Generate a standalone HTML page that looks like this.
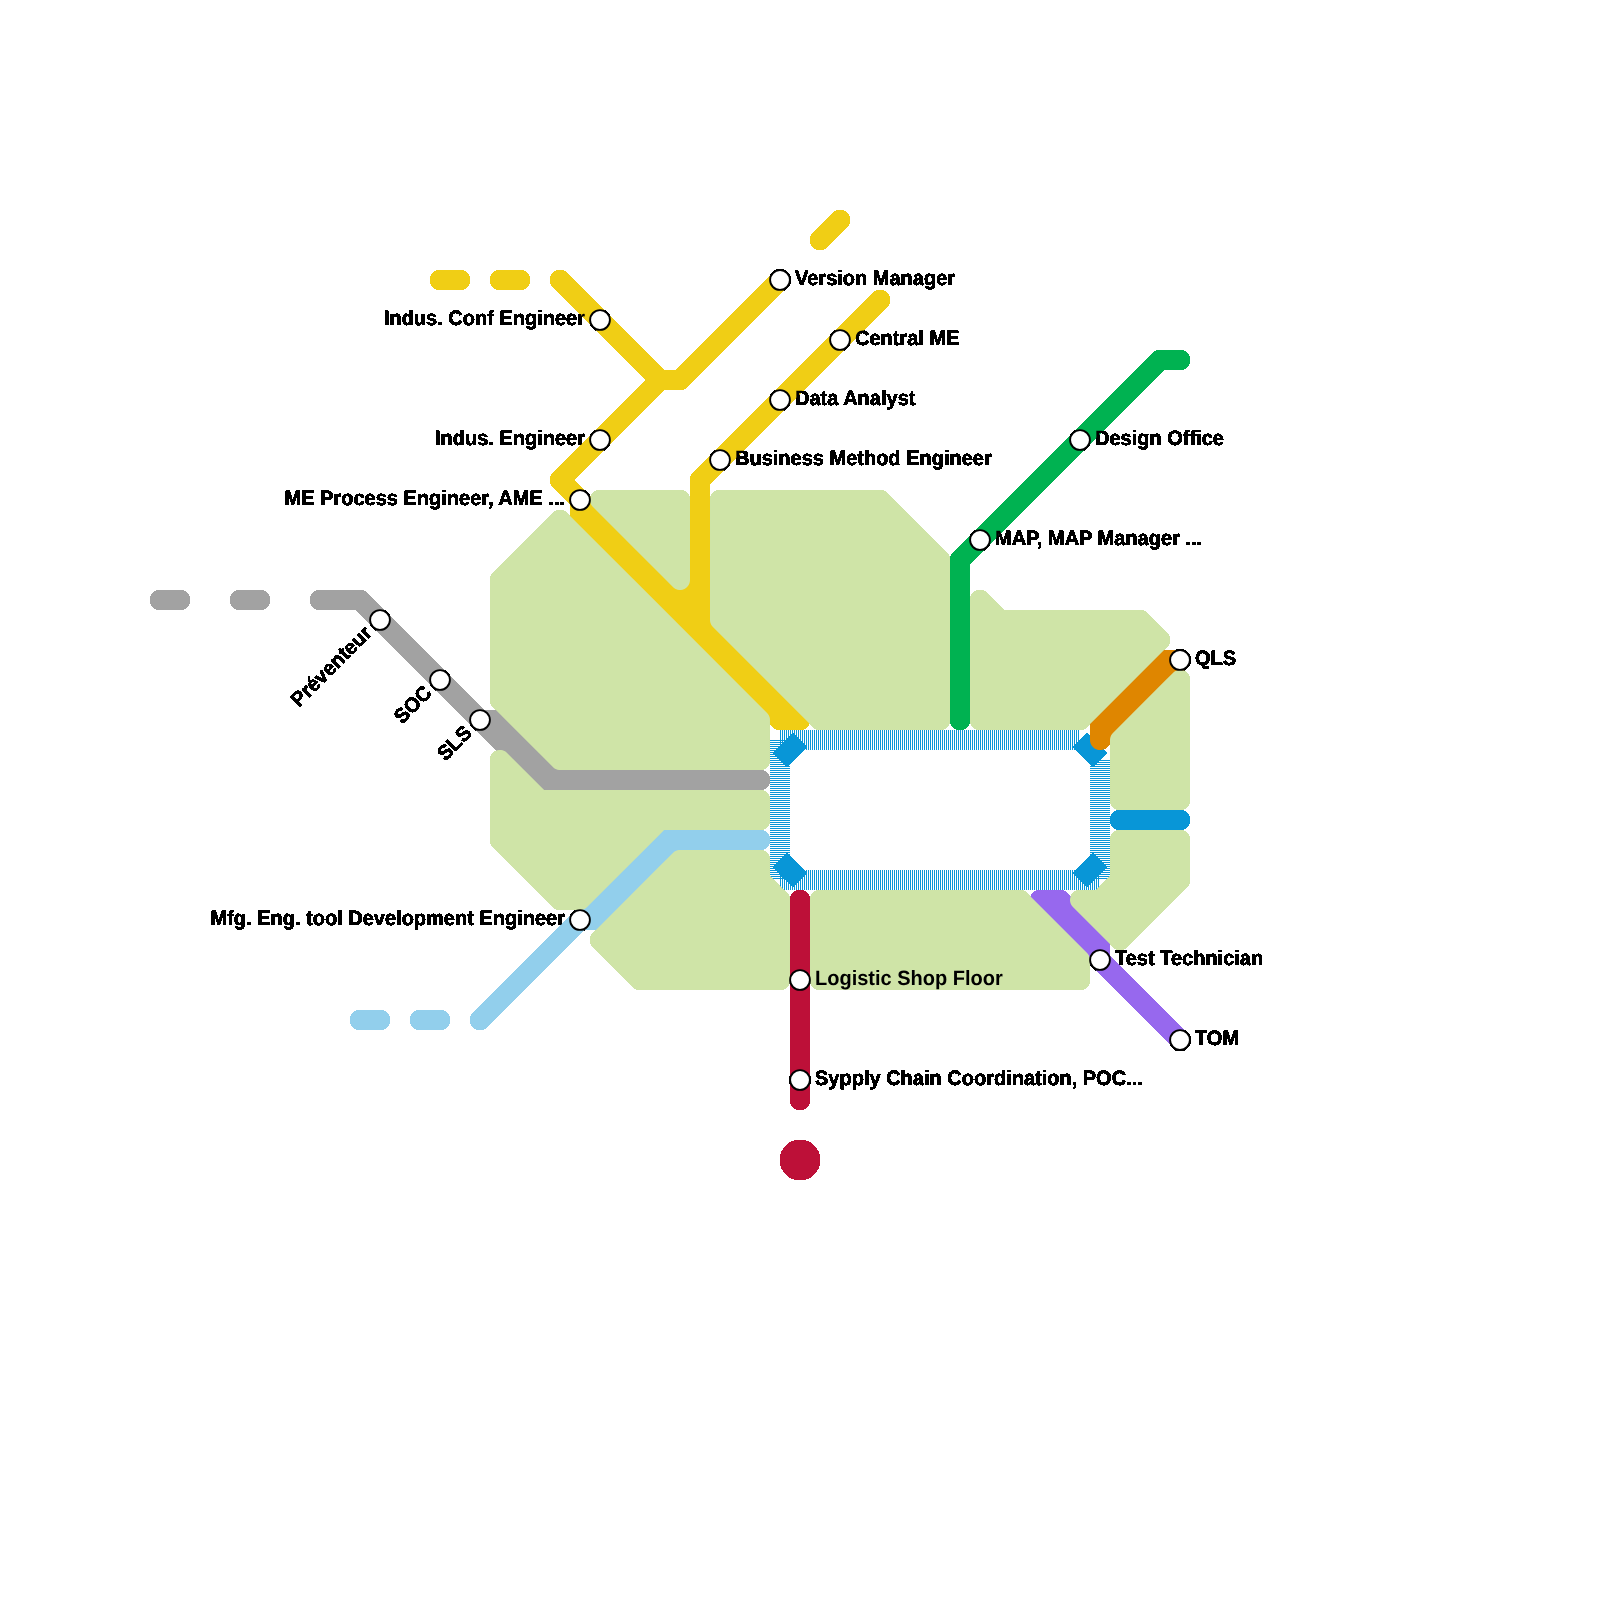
<!DOCTYPE html>
<html><head><meta charset="utf-8"><title>Map</title>
<style>
html,body{margin:0;padding:0;background:#fff}
svg{display:block}
text{font-family:"Liberation Sans",sans-serif;font-weight:700;font-size:20px;fill:#000;stroke:none;text-rendering:geometricPrecision}
</style></head>
<body>
<svg width="1600" height="1600" viewBox="0 0 1600 1600">
<defs>
<pattern id="vs" width="2" height="2" patternUnits="userSpaceOnUse"><rect x="0" y="0" width="1" height="2" fill="#0896d7"/></pattern>
<pattern id="hs" width="2" height="2" patternUnits="userSpaceOnUse"><rect x="0" y="0" width="2" height="1" fill="#0896d7"/></pattern>
<filter id="thr" filterUnits="userSpaceOnUse" x="0" y="0" width="1600" height="1600" color-interpolation-filters="sRGB"><feComponentTransfer><feFuncA type="discrete" tableValues="0 1 1 1 1 1 1 1 1 1 1 1"/></feComponentTransfer></filter>
</defs>
<rect width="1600" height="1600" fill="#fff"/>
<g filter="url(#thr)">
<!-- hatched loop -->
<g shape-rendering="crispEdges">
<rect x="780" y="730" width="300" height="20" fill="url(#vs)"/>
<rect x="780" y="870" width="320" height="20" fill="url(#vs)"/>
<rect x="770" y="740" width="20" height="140" fill="url(#hs)"/>
<rect x="1090" y="760" width="20" height="120" fill="url(#hs)"/>
</g>
<polygon points="787.07,767.07 807.07,747.07 792.93,732.93 772.93,752.93" fill="#0896d7"/>
<polygon points="1072.93,747.07 1092.93,767.07 1107.07,752.93 1087.07,732.93" fill="#0896d7"/>
<polygon points="1087.07,887.07 1107.07,867.07 1092.93,852.93 1072.93,872.93" fill="#0896d7"/>
<polygon points="772.93,867.07 792.93,887.07 807.07,872.93 787.07,852.93" fill="#0896d7"/>
<!-- lines -->
<path d="M1180,830L1181.31,829.91L1181.95,829.81L1182.59,829.66L1183.83,829.24L1185,828.66L1185.56,828.31L1186.59,827.52L1187.07,827.07L1187.93,826.09L1188.66,825L1189.24,823.83L1189.47,823.21L1189.66,822.59L1189.91,821.31L1190,820L1189.98,819.35L1189.91,818.69L1189.66,817.41L1189.24,816.17L1188.97,815.58L1188.66,815L1187.93,813.91L1187.07,812.93L1186.59,812.48L1185.56,811.69L1185,811.34L1183.83,810.76L1182.59,810.34L1181.95,810.19L1181.31,810.09L1180,810L1120,810L1118.69,810.09L1117.41,810.34L1116.17,810.76L1115.58,811.03L1114.44,811.69L1113.41,812.48L1112.93,812.93L1112.07,813.91L1111.34,815L1110.76,816.17L1110.34,817.41L1110.19,818.05L1110.09,818.69L1110,820L1110.09,821.31L1110.19,821.95L1110.34,822.59L1110.76,823.83L1111.34,825L1111.69,825.56L1112.07,826.09L1112.93,827.07L1113.91,827.93L1114.44,828.31L1115,828.66L1116.17,829.24L1117.41,829.66L1118.05,829.81L1118.69,829.91L1120,830Z" fill="#0896d7"/>
<path d="M181.31,609.91L182.59,609.66L183.83,609.24L185,608.66L186.09,607.93L186.59,607.52L187.52,606.59L187.93,606.09L188.66,605L189.24,603.83L189.47,603.21L189.81,601.95L189.98,600.65L189.98,599.35L189.81,598.05L189.47,596.79L189.24,596.17L188.66,595L187.93,593.91L187.52,593.41L186.59,592.48L185.56,591.69L185,591.34L183.83,590.76L182.59,590.34L181.95,590.19L181.31,590.09L180,590L160,590L158.69,590.09L157.41,590.34L156.17,590.76L155,591.34L153.91,592.07L152.93,592.93L152.07,593.91L151.34,595L150.76,596.17L150.53,596.79L150.19,598.05L150.02,599.35L150,600L150.02,600.65L150.19,601.95L150.53,603.21L150.76,603.83L151.03,604.42L151.69,605.56L152.48,606.59L152.93,607.07L153.91,607.93L154.44,608.31L155,608.66L156.17,609.24L157.41,609.66L158.05,609.81L158.69,609.91L160,610L180,610ZM262.59,609.66L263.83,609.24L265,608.66L266.09,607.93L266.59,607.52L267.52,606.59L268.31,605.56L268.97,604.42L269.24,603.83L269.47,603.21L269.81,601.95L269.98,600.65L270,600L269.91,598.69L269.66,597.41L269.47,596.79L268.97,595.58L268.31,594.44L267.52,593.41L266.59,592.48L266.09,592.07L265,591.34L263.83,590.76L262.59,590.34L261.95,590.19L261.31,590.09L260,590L240,590L238.69,590.09L237.41,590.34L236.17,590.76L235,591.34L233.91,592.07L232.93,592.93L232.07,593.91L231.34,595L230.76,596.17L230.53,596.79L230.19,598.05L230.02,599.35L230,600L230.02,600.65L230.19,601.95L230.53,603.21L230.76,603.83L231.03,604.42L231.69,605.56L232.48,606.59L232.93,607.07L233.91,607.93L234.44,608.31L235,608.66L236.17,609.24L237.41,609.66L238.05,609.81L238.69,609.91L240,610L260,610L261.31,609.91ZM366.09,592.07L365,591.34L363.83,590.76L362.59,590.34L361.31,590.09L360.65,590.02L320,590L318.69,590.09L318.05,590.19L317.41,590.34L316.17,590.76L315,591.34L314.44,591.69L313.91,592.07L312.93,592.93L312.48,593.41L311.69,594.44L311.03,595.58L310.76,596.17L310.53,596.79L310.19,598.05L310.09,598.69L310,600L310.09,601.31L310.19,601.95L310.53,603.21L311.03,604.42L311.69,605.56L312.07,606.09L312.93,607.07L313.91,607.93L315,608.66L316.17,609.24L316.79,609.47L318.05,609.81L318.69,609.91L320,610L355.86,610L532.93,787.07L533.41,787.52L534.44,788.31L535.58,788.97L536.79,789.47L538.05,789.81L538.69,789.91L540,790L760,790L761.31,789.91L762.59,789.66L763.83,789.24L765,788.66L766.09,787.93L767.07,787.07L767.52,786.59L768.31,785.56L768.97,784.42L769.47,783.21L769.81,781.95L769.98,780.65L769.98,779.35L769.91,778.69L769.66,777.41L769.24,776.17L768.66,775L767.93,773.91L767.07,772.93L766.09,772.07L765,771.34L763.83,770.76L762.59,770.34L761.31,770.09L760.65,770.02L564.14,770L507.07,712.93L506.09,712.07L505,711.34L503.83,710.76L502.59,710.34L501.31,710.09L500.65,710.02L484.14,710L367.07,592.93Z" fill="#a2a2a2"/>
<path d="M607.07,927.07L684.14,850L760,850L761.31,849.91L761.95,849.81L762.59,849.66L763.83,849.24L765,848.66L766.09,847.93L766.59,847.52L767.52,846.59L768.31,845.56L768.97,844.42L769.47,843.21L769.81,841.95L769.91,841.31L770,840L769.91,838.69L769.81,838.05L769.47,836.79L768.97,835.58L768.31,834.44L767.52,833.41L766.59,832.48L765.56,831.69L764.42,831.03L763.21,830.53L761.95,830.19L760.65,830.02L660,830L658.69,830.09L657.41,830.34L656.17,830.76L655,831.34L654.44,831.69L653.41,832.48L652.93,832.93L472.93,1012.93L472.07,1013.91L471.69,1014.44L471.03,1015.58L470.53,1016.79L470.34,1017.41L470.09,1018.69L470.02,1019.35L470,1020L470.09,1021.31L470.19,1021.95L470.53,1023.21L470.76,1023.83L471.34,1025L472.07,1026.09L472.93,1027.07L473.41,1027.52L473.91,1027.93L475,1028.66L476.17,1029.24L476.79,1029.47L477.41,1029.66L478.69,1029.91L480,1030L480.65,1029.98L481.31,1029.91L482.59,1029.66L483.83,1029.24L484.42,1028.97L485,1028.66L486.09,1027.93L487.07,1027.07L584.14,930L600.65,929.98L601.31,929.91L602.59,929.66L603.83,929.24L604.42,928.97L605.56,928.31L606.59,927.52ZM382.59,1029.66L383.83,1029.24L385,1028.66L386.09,1027.93L387.07,1027.07L387.52,1026.59L388.31,1025.56L388.66,1025L389.24,1023.83L389.47,1023.21L389.81,1021.95L389.98,1020.65L390,1020L389.91,1018.69L389.66,1017.41L389.47,1016.79L388.97,1015.58L388.31,1014.44L387.52,1013.41L386.59,1012.48L386.09,1012.07L385,1011.34L383.83,1010.76L382.59,1010.34L381.95,1010.19L381.31,1010.09L380,1010L360,1010L358.69,1010.09L357.41,1010.34L356.17,1010.76L355,1011.34L353.91,1012.07L352.93,1012.93L352.07,1013.91L351.34,1015L350.76,1016.17L350.53,1016.79L350.19,1018.05L350.09,1018.69L350,1020L350.09,1021.31L350.19,1021.95L350.53,1023.21L350.76,1023.83L351.34,1025L351.69,1025.56L352.48,1026.59L352.93,1027.07L353.91,1027.93L354.44,1028.31L355,1028.66L356.17,1029.24L357.41,1029.66L358.05,1029.81L358.69,1029.91L360,1030L380,1030L381.31,1029.91ZM441.31,1029.91L442.59,1029.66L443.83,1029.24L445,1028.66L446.09,1027.93L447.07,1027.07L447.52,1026.59L448.31,1025.56L448.66,1025L449.24,1023.83L449.66,1022.59L449.91,1021.31L450,1020L449.91,1018.69L449.81,1018.05L449.47,1016.79L449.24,1016.17L448.66,1015L447.93,1013.91L447.52,1013.41L446.59,1012.48L446.09,1012.07L445,1011.34L443.83,1010.76L442.59,1010.34L441.95,1010.19L441.31,1010.09L440,1010L420,1010L418.69,1010.09L417.41,1010.34L416.17,1010.76L415,1011.34L413.91,1012.07L412.93,1012.93L412.07,1013.91L411.34,1015L410.76,1016.17L410.53,1016.79L410.19,1018.05L410.09,1018.69L410,1020L410.09,1021.31L410.19,1021.95L410.53,1023.21L410.76,1023.83L411.34,1025L411.69,1025.56L412.48,1026.59L412.93,1027.07L413.91,1027.93L414.44,1028.31L415,1028.66L416.17,1029.24L417.41,1029.66L418.05,1029.81L418.69,1029.91L420,1030L440,1030Z" fill="#92cfec"/>
<path d="M1180.65,369.98L1181.95,369.81L1183.21,369.47L1183.83,369.24L1185,368.66L1185.56,368.31L1186.59,367.52L1187.07,367.07L1187.93,366.09L1188.66,365L1189.24,363.83L1189.66,362.59L1189.91,361.31L1190,360L1189.98,359.35L1189.81,358.05L1189.66,357.41L1189.24,356.17L1188.66,355L1187.93,353.91L1187.07,352.93L1186.59,352.48L1185.56,351.69L1184.42,351.03L1183.21,350.53L1181.95,350.19L1180.65,350.02L1160,350L1158.69,350.09L1158.05,350.19L1156.79,350.53L1156.17,350.76L1155,351.34L1153.91,352.07L1152.93,352.93L952.93,552.93L952.48,553.41L951.69,554.44L951.34,555L950.76,556.17L950.34,557.41L950.09,558.69L950,560L950,720L950.09,721.31L950.34,722.59L950.76,723.83L951.34,725L952.07,726.09L952.93,727.07L953.41,727.52L954.44,728.31L955.58,728.97L956.79,729.47L958.05,729.81L959.35,729.98L960.65,729.98L961.95,729.81L963.21,729.47L964.42,728.97L965.56,728.31L966.59,727.52L967.52,726.59L968.31,725.56L968.97,724.42L969.47,723.21L969.81,721.95L969.98,720.65L970,564.14L1164.14,370Z" fill="#00b251"/>
<path d="M1187.52,666.59L1187.93,666.09L1188.66,665L1189.24,663.83L1189.66,662.59L1189.91,661.31L1190,660L1189.91,658.69L1189.81,658.05L1189.66,657.41L1189.24,656.17L1188.66,655L1187.93,653.91L1187.07,652.93L1186.09,652.07L1185,651.34L1183.83,650.76L1182.59,650.34L1181.95,650.19L1181.31,650.09L1180,650L1159.35,650.02L1158.05,650.19L1157.41,650.34L1156.17,650.76L1155,651.34L1154.44,651.69L1153.41,652.48L1092.93,712.93L1092.07,713.91L1091.69,714.44L1091.03,715.58L1090.53,716.79L1090.19,718.05L1090.02,719.35L1090,740L1090.09,741.31L1090.19,741.95L1090.34,742.59L1090.76,743.83L1091.34,745L1092.07,746.09L1092.48,746.59L1092.93,747.07L1093.91,747.93L1095,748.66L1095.58,748.97L1096.17,749.24L1097.41,749.66L1098.69,749.91L1099.35,749.98L1100.65,749.98L1101.31,749.91L1102.59,749.66L1103.21,749.47L1103.83,749.24L1105,748.66L1105.56,748.31L1106.59,747.52Z" fill="#df8600"/>
<path d="M1066.09,892.07L1065,891.34L1063.83,890.76L1062.59,890.34L1061.95,890.19L1060.65,890.02L1040,890L1038.69,890.09L1037.41,890.34L1036.79,890.53L1036.17,890.76L1035,891.34L1034.44,891.69L1033.41,892.48L1032.93,892.93L1032.07,893.91L1031.34,895L1031.03,895.58L1030.76,896.17L1030.34,897.41L1030.09,898.69L1030.02,899.35L1030,900L1030.09,901.31L1030.34,902.59L1030.53,903.21L1030.76,903.83L1031.34,905L1032.07,906.09L1032.93,907.07L1173.41,1047.52L1173.91,1047.93L1175,1048.66L1176.17,1049.24L1177.41,1049.66L1178.05,1049.81L1178.69,1049.91L1180,1050L1181.31,1049.91L1182.59,1049.66L1183.21,1049.47L1183.83,1049.24L1185,1048.66L1186.09,1047.93L1187.07,1047.07L1187.52,1046.59L1187.93,1046.09L1188.66,1045L1189.24,1043.83L1189.47,1043.21L1189.66,1042.59L1189.91,1041.31L1190,1040L1189.98,1039.35L1189.91,1038.69L1189.66,1037.41L1189.24,1036.17L1188.97,1035.58L1188.66,1035L1187.93,1033.91L1187.07,1032.93L1110,955.86L1109.98,939.35L1109.81,938.05L1109.47,936.79L1108.97,935.58L1108.31,934.44L1107.93,933.91L1107.07,932.93L1067.07,892.93Z" fill="#9768ee"/>
<path d="M790,1100L790.09,1101.31L790.19,1101.95L790.34,1102.59L790.76,1103.83L791.34,1105L791.69,1105.56L792.48,1106.59L792.93,1107.07L793.91,1107.93L794.44,1108.31L795,1108.66L796.17,1109.24L797.41,1109.66L798.05,1109.81L798.69,1109.91L800,1110L801.31,1109.91L801.95,1109.81L802.59,1109.66L803.83,1109.24L805,1108.66L805.56,1108.31L806.09,1107.93L807.07,1107.07L807.93,1106.09L808.31,1105.56L808.66,1105L809.24,1103.83L809.66,1102.59L809.81,1101.95L809.98,1100.65L809.98,899.35L809.81,898.05L809.66,897.41L809.24,896.17L808.66,895L808.31,894.44L807.52,893.41L807.07,892.93L806.59,892.48L805.56,891.69L805,891.34L803.83,890.76L802.59,890.34L801.95,890.19L800.65,890.02L799.35,890.02L798.69,890.09L797.41,890.34L796.79,890.53L796.17,890.76L795,891.34L794.44,891.69L793.41,892.48L792.48,893.41L792.07,893.91L791.34,895L791.03,895.58L790.76,896.17L790.34,897.41L790.09,898.69L790.02,899.35Z" fill="#bd1038"/>
<path d="M523.21,289.47L524.42,288.97L525.56,288.31L526.09,287.93L527.07,287.07L527.93,286.09L528.66,285L529.24,283.83L529.66,282.59L529.91,281.31L529.98,280.65L529.98,279.35L529.81,278.05L529.47,276.79L529.24,276.17L528.66,275L527.93,273.91L527.07,272.93L526.59,272.48L525.56,271.69L524.42,271.03L523.83,270.76L523.21,270.53L521.95,270.19L521.31,270.09L520,270L500,270L498.69,270.09L497.41,270.34L496.17,270.76L495,271.34L493.91,272.07L492.93,272.93L492.07,273.91L491.34,275L490.76,276.17L490.53,276.79L490.19,278.05L490.09,278.69L490,280L490.09,281.31L490.19,281.95L490.53,283.21L490.76,283.83L491.03,284.42L491.69,285.56L492.07,286.09L492.93,287.07L493.91,287.93L494.44,288.31L495.58,288.97L496.17,289.24L496.79,289.47L498.05,289.81L498.69,289.91L500,290L520,290L521.31,289.91L521.95,289.81ZM463.21,289.47L464.42,288.97L465.56,288.31L466.09,287.93L467.07,287.07L467.93,286.09L468.31,285.56L468.97,284.42L469.47,283.21L469.81,281.95L469.91,281.31L470,280L469.91,278.69L469.81,278.05L469.47,276.79L468.97,275.58L468.31,274.44L467.52,273.41L467.07,272.93L466.09,272.07L465,271.34L463.83,270.76L463.21,270.53L461.95,270.19L461.31,270.09L460,270L440,270L438.69,270.09L437.41,270.34L436.17,270.76L435,271.34L433.91,272.07L432.93,272.93L432.07,273.91L431.34,275L430.76,276.17L430.53,276.79L430.19,278.05L430.09,278.69L430,280L430.09,281.31L430.19,281.95L430.53,283.21L430.76,283.83L431.03,284.42L431.69,285.56L432.07,286.09L432.93,287.07L433.91,287.93L434.44,288.31L435.58,288.97L436.17,289.24L436.79,289.47L438.05,289.81L438.69,289.91L440,290L460,290L461.31,289.91L461.95,289.81ZM681.31,389.91L681.95,389.81L683.21,389.47L684.42,388.97L685.56,388.31L686.09,387.93L687.07,387.07L787.52,286.59L787.93,286.09L788.66,285L789.24,283.83L789.47,283.21L789.66,282.59L789.91,281.31L789.98,280.65L789.98,279.35L789.91,278.69L789.66,277.41L789.24,276.17L788.97,275.58L788.66,275L787.93,273.91L787.07,272.93L786.59,272.48L785.56,271.69L784.42,271.03L783.83,270.76L783.21,270.53L781.95,270.19L781.31,270.09L780,270L778.69,270.09L778.05,270.19L776.79,270.53L776.17,270.76L775.58,271.03L774.44,271.69L773.41,272.48L675.86,370L664.14,370L567.07,272.93L566.09,272.07L565.56,271.69L564.42,271.03L563.21,270.53L562.59,270.34L561.31,270.09L560.65,270.02L560,270L558.69,270.09L558.05,270.19L556.79,270.53L555.58,271.03L554.44,271.69L553.91,272.07L553.41,272.48L552.48,273.41L552.07,273.91L551.34,275L550.76,276.17L550.34,277.41L550.19,278.05L550.09,278.69L550,280L550.09,281.31L550.34,282.59L550.53,283.21L550.76,283.83L551.34,285L552.07,286.09L552.48,286.59L645.86,380L552.93,472.93L552.07,473.91L551.69,474.44L551.03,475.58L550.53,476.79L550.19,478.05L550.02,479.35L550.02,480.65L550.19,481.95L550.53,483.21L551.03,484.42L551.69,485.56L552.07,486.09L552.93,487.07L570,504.14L570.02,520.65L570.09,521.31L570.34,522.59L570.76,523.83L571.34,525L572.07,526.09L572.93,527.07L773.41,727.52L774.44,728.31L775,728.66L776.17,729.24L777.41,729.66L778.05,729.81L779.35,729.98L800,730L801.31,729.91L802.59,729.66L803.21,729.47L803.83,729.24L805,728.66L806.09,727.93L807.07,727.07L807.93,726.09L808.66,725L809.24,723.83L809.66,722.59L809.91,721.31L809.98,720.65L809.98,719.35L809.81,718.05L809.66,717.41L809.24,716.17L808.66,715L807.93,713.91L807.07,712.93L710,615.86L710,484.14L887.07,307.07L887.93,306.09L888.66,305L889.24,303.83L889.47,303.21L889.81,301.95L889.98,300.65L889.98,299.35L889.91,298.69L889.66,297.41L889.24,296.17L888.66,295L888.31,294.44L887.52,293.41L886.59,292.48L885.56,291.69L884.42,291.03L883.21,290.53L881.95,290.19L881.31,290.09L880,290L878.69,290.09L877.41,290.34L876.79,290.53L875.58,291.03L874.44,291.69L873.41,292.48L692.93,472.93L692.07,473.91L691.34,475L690.76,476.17L690.53,476.79L690.34,477.41L690.09,478.69L690,480L690,575.86L680,585.86L574.14,480L664.14,390L680,390ZM848.97,224.42L849.24,223.83L849.66,222.59L849.91,221.31L850,220L849.91,218.69L849.66,217.41L849.24,216.17L848.97,215.58L848.31,214.44L847.93,213.91L847.07,212.93L846.09,212.07L845,211.34L844.42,211.03L843.21,210.53L841.95,210.19L841.31,210.09L840.65,210.02L839.35,210.02L838.05,210.19L836.79,210.53L836.17,210.76L835,211.34L833.91,212.07L832.93,212.93L812.93,232.93L812.48,233.41L811.69,234.44L811.03,235.58L810.53,236.79L810.19,238.05L810.02,239.35L810.02,240.65L810.09,241.31L810.34,242.59L810.76,243.83L811.34,245L811.69,245.56L812.48,246.59L813.41,247.52L813.91,247.93L815,248.66L815.58,248.97L816.17,249.24L817.41,249.66L818.05,249.81L819.35,249.98L820.65,249.98L821.31,249.91L821.95,249.81L823.21,249.47L824.42,248.97L825,248.66L826.09,247.93L827.07,247.07L847.07,227.07L847.52,226.59L848.31,225.56Z" fill="#f0ce15"/>
<path d="M820,1160L819.9,1158.04L819.62,1156.1L819.14,1154.19L818.48,1152.35L817.64,1150.57L816.63,1148.89L815.46,1147.31L814.14,1145.86L812.69,1144.54L811.11,1143.37L809.43,1142.36L807.65,1141.52L805.81,1140.86L803.9,1140.38L801.96,1140.1L800,1140L798.04,1140.1L796.1,1140.38L794.19,1140.86L792.35,1141.52L790.57,1142.36L788.89,1143.37L787.31,1144.54L785.86,1145.86L784.54,1147.31L783.37,1148.89L782.36,1150.57L781.52,1152.35L780.86,1154.19L780.38,1156.1L780.1,1158.04L780,1160L780.1,1161.96L780.38,1163.9L780.86,1165.81L781.52,1167.65L782.36,1169.43L783.37,1171.11L784.54,1172.69L785.86,1174.14L787.31,1175.46L788.89,1176.63L790.57,1177.64L792.35,1178.48L794.19,1179.14L796.1,1179.62L798.04,1179.9L800,1180L801.96,1179.9L803.9,1179.62L805.81,1179.14L807.65,1178.48L809.43,1177.64L811.11,1176.63L812.69,1175.46L814.14,1174.14L815.46,1172.69L816.63,1171.11L817.64,1169.43L818.48,1167.65L819.14,1165.81L819.62,1163.9L819.9,1161.96Z" fill="#bd1038"/>
<!-- park on top -->
<path d="M567.07,512.93L566.09,512.07L565.56,511.69L564.42,511.03L563.21,510.53L562.59,510.34L561.31,510.09L560.65,510.02L560,510L558.69,510.09L558.05,510.19L556.79,510.53L555.58,511.03L555,511.34L554.44,511.69L553.41,512.48L492.93,572.93L492.48,573.41L491.69,574.44L491.03,575.58L490.76,576.17L490.53,576.79L490.19,578.05L490.09,578.69L490,580L490,700L490.09,701.31L490.19,701.95L490.53,703.21L491.03,704.42L491.69,705.56L492.07,706.09L492.93,707.07L552.93,767.07L553.91,767.93L555,768.66L556.17,769.24L557.41,769.66L558.05,769.81L558.69,769.91L560,770L760,770L761.31,769.91L762.59,769.66L763.21,769.47L763.83,769.24L765,768.66L766.09,767.93L766.59,767.52L767.52,766.59L768.31,765.56L768.66,765L769.24,763.83L769.66,762.59L769.91,761.31L769.98,760.65L769.98,719.35L769.81,718.05L769.66,717.41L769.24,716.17L768.66,715L767.93,713.91L767.07,712.93ZM503.83,750.76L502.59,750.34L501.31,750.09L500,750L498.69,750.09L497.41,750.34L496.79,750.53L496.17,750.76L495,751.34L493.91,752.07L492.93,752.93L492.48,753.41L491.69,754.44L491.03,755.58L490.76,756.17L490.34,757.41L490.09,758.69L490,760L490,840L490.09,841.31L490.19,841.95L490.53,843.21L491.03,844.42L491.69,845.56L492.48,846.59L492.93,847.07L552.93,907.07L553.91,907.93L555,908.66L556.17,909.24L557.41,909.66L558.69,909.91L560,910L580.65,909.98L581.95,909.81L582.59,909.66L583.83,909.24L585,908.66L586.09,907.93L587.07,907.07L664.14,830L760.65,829.98L761.95,829.81L762.59,829.66L763.83,829.24L765,828.66L765.56,828.31L766.59,827.52L767.52,826.59L768.31,825.56L768.66,825L769.24,823.83L769.66,822.59L769.91,821.31L770,820L770,800L769.91,798.69L769.81,798.05L769.66,797.41L769.24,796.17L768.66,795L767.93,793.91L767.07,792.93L766.09,792.07L765,791.34L763.83,790.76L762.59,790.34L761.31,790.09L760,790L544.14,790L507.07,752.93L506.09,752.07L505,751.34ZM689.66,497.41L689.24,496.17L688.66,495L687.93,493.91L687.07,492.93L686.59,492.48L685.56,491.69L684.42,491.03L683.83,490.76L683.21,490.53L681.95,490.19L680.65,490.02L600,490L598.69,490.09L598.05,490.19L596.79,490.53L596.17,490.76L595.58,491.03L594.44,491.69L593.41,492.48L592.93,492.93L592.07,493.91L591.69,494.44L591.34,495L590.76,496.17L590.34,497.41L590.19,498.05L590.09,498.69L590,500L590.09,501.31L590.34,502.59L590.53,503.21L590.76,503.83L591.34,505L592.07,506.09L592.48,506.59L632.93,547.07L673.41,587.52L674.44,588.31L675,588.66L676.17,589.24L677.41,589.66L678.05,589.81L678.69,589.91L680,590L681.31,589.91L681.95,589.81L682.59,589.66L683.83,589.24L685,588.66L685.56,588.31L686.59,587.52L687.52,586.59L688.31,585.56L688.66,585L689.24,583.83L689.47,583.21L689.66,582.59L689.91,581.31L690,580L690,500L689.91,498.69ZM678.69,850.09L677.41,850.34L676.17,850.76L675,851.34L673.91,852.07L672.93,852.93L592.48,933.41L591.69,934.44L591.34,935L590.76,936.17L590.34,937.41L590.19,938.05L590.02,939.35L590.02,940.65L590.09,941.31L590.34,942.59L590.76,943.83L591.03,944.42L591.34,945L592.07,946.09L592.93,947.07L632.93,987.07L633.91,987.93L635,988.66L636.17,989.24L637.41,989.66L638.05,989.81L638.69,989.91L640,990L780,990L781.31,989.91L782.59,989.66L783.21,989.47L783.83,989.24L785,988.66L786.09,987.93L786.59,987.52L787.52,986.59L788.31,985.56L788.66,985L789.24,983.83L789.66,982.59L789.91,981.31L789.98,980.65L790,900L789.91,898.69L789.66,897.41L789.24,896.17L788.66,895L788.31,894.44L787.52,893.41L770,875.86L769.98,859.35L769.81,858.05L769.66,857.41L769.24,856.17L768.66,855L767.93,853.91L767.52,853.41L766.59,852.48L765.56,851.69L765,851.34L763.83,850.76L762.59,850.34L761.31,850.09L760.65,850.02L680,850ZM719.35,490.02L718.69,490.09L717.41,490.34L716.79,490.53L715.58,491.03L714.44,491.69L713.91,492.07L712.93,492.93L712.07,493.91L711.69,494.44L710.9,495.88L710.34,497.41L710.09,498.69L710.02,499.35L710,620L710.09,621.31L710.19,621.95L710.34,622.59L710.76,623.83L711.34,625L711.69,625.56L712.48,626.59L712.93,627.07L812.93,727.07L813.41,727.52L814.44,728.31L815,728.66L816.17,729.24L817.41,729.66L818.05,729.81L818.69,729.91L820,730L940,730L941.31,729.91L941.95,729.81L942.59,729.66L943.83,729.24L945,728.66L945.56,728.31L946.59,727.52L947.07,727.07L947.52,726.59L948.31,725.56L948.66,725L949.24,723.83L949.66,722.59L949.81,721.95L949.91,721.31L950,720L950,560L949.91,558.69L949.81,558.05L949.66,557.41L949.24,556.17L948.66,555L948.31,554.44L947.52,553.41L947.07,552.93L887.07,492.93L886.09,492.07L885,491.34L883.83,490.76L882.59,490.34L881.31,490.09L880,490ZM818.69,890.09L817.41,890.34L816.79,890.53L816.17,890.76L815,891.34L814.44,891.69L813.41,892.48L812.48,893.41L811.69,894.44L811.34,895L810.76,896.17L810.34,897.41L810.19,898.05L810.09,898.69L810,900L810.02,980.65L810.19,981.95L810.34,982.59L810.76,983.83L811.34,985L812.07,986.09L812.93,987.07L813.41,987.52L814.44,988.31L815.58,988.97L816.79,989.47L817.41,989.66L818.69,989.91L820,990L1080,990L1081.31,989.91L1082.59,989.66L1083.83,989.24L1085,988.66L1085.56,988.31L1086.59,987.52L1087.07,987.07L1087.93,986.09L1088.66,985L1089.24,983.83L1089.47,983.21L1089.66,982.59L1089.91,981.31L1090,980L1089.98,959.35L1089.81,958.05L1089.47,956.79L1088.97,955.58L1088.31,954.44L1087.93,953.91L1087.07,952.93L1027.07,892.93L1026.09,892.07L1025,891.34L1023.83,890.76L1023.21,890.53L1022.59,890.34L1021.31,890.09L1020,890L820,890ZM1146.09,612.07L1145,611.34L1143.83,610.76L1143.21,610.53L1142.59,610.34L1141.31,610.09L1140,610L1004.14,610L987.07,592.93L986.09,592.07L985,591.34L983.83,590.76L982.59,590.34L981.95,590.19L980.65,590.02L979.35,590.02L978.05,590.19L976.79,590.53L975.58,591.03L974.44,591.69L973.41,592.48L972.93,592.93L972.07,593.91L971.34,595L970.76,596.17L970.34,597.41L970.09,598.69L970,600L970,720L970.09,721.31L970.34,722.59L970.76,723.83L971.34,725L971.69,725.56L972.48,726.59L972.93,727.07L973.91,727.93L975,728.66L976.17,729.24L977.41,729.66L978.69,729.91L980,730L1080,730L1081.31,729.91L1082.59,729.66L1083.83,729.24L1085,728.66L1085.56,728.31L1086.59,727.52L1087.07,727.07L1167.07,647.07L1167.93,646.09L1168.66,645L1168.97,644.42L1169.47,643.21L1169.81,641.95L1169.98,640.65L1169.98,639.35L1169.81,638.05L1169.47,636.79L1168.97,635.58L1168.31,634.44L1167.93,633.91L1167.07,632.93L1147.07,612.93ZM1189.91,678.69L1189.66,677.41L1189.24,676.17L1188.66,675L1187.93,673.91L1187.07,672.93L1186.09,672.07L1185,671.34L1183.83,670.76L1182.59,670.34L1181.31,670.09L1180,670L1178.69,670.09L1177.41,670.34L1176.17,670.76L1175,671.34L1173.91,672.07L1172.93,672.93L1112.93,732.93L1112.07,733.91L1111.34,735L1110.76,736.17L1110.34,737.41L1110.09,738.69L1110,740L1110.02,800.65L1110.09,801.31L1110.34,802.59L1110.76,803.83L1111.34,805L1112.07,806.09L1112.93,807.07L1113.91,807.93L1115,808.66L1116.17,809.24L1117.41,809.66L1118.69,809.91L1120,810L1180.65,809.98L1181.31,809.91L1182.59,809.66L1183.83,809.24L1185,808.66L1186.09,807.93L1187.07,807.07L1187.93,806.09L1188.66,805L1189.24,803.83L1189.66,802.59L1189.91,801.31L1190,800L1190,680ZM1189.66,837.41L1189.24,836.17L1188.66,835L1187.93,833.91L1187.07,832.93L1186.59,832.48L1185.56,831.69L1185,831.34L1183.83,830.76L1182.59,830.34L1181.95,830.19L1180.65,830.02L1120,830L1118.69,830.09L1117.41,830.34L1116.17,830.76L1115,831.34L1113.91,832.07L1112.93,832.93L1112.07,833.91L1111.69,834.44L1111.34,835L1110.76,836.17L1110.34,837.41L1110.09,838.69L1110,840L1110,875.86L1095.86,890L1079.35,890.02L1078.05,890.19L1077.41,890.34L1076.17,890.76L1075,891.34L1073.91,892.07L1072.93,892.93L1072.48,893.41L1072.07,893.91L1071.34,895L1070.76,896.17L1070.34,897.41L1070.19,898.05L1070.09,898.69L1070,900L1070.09,901.31L1070.34,902.59L1070.53,903.21L1070.76,903.83L1071.34,905L1072.07,906.09L1072.93,907.07L1112.93,947.07L1113.91,947.93L1115,948.66L1116.17,949.24L1117.41,949.66L1118.05,949.81L1119.35,949.98L1120.65,949.98L1121.95,949.81L1122.59,949.66L1123.83,949.24L1125,948.66L1126.09,947.93L1127.07,947.07L1167.07,907.07L1187.07,887.07L1187.93,886.09L1188.66,885L1189.24,883.83L1189.66,882.59L1189.91,881.31L1190,880L1190,840L1189.91,838.69Z" fill="#cfe4a7"/>
<g fill="#fff" stroke="#000" stroke-width="1.85">
<circle cx="780" cy="280" r="9.9"/>
<circle cx="840" cy="340" r="9.9"/>
<circle cx="780" cy="400" r="9.9"/>
<circle cx="720" cy="460" r="9.9"/>
<circle cx="1080" cy="440" r="9.9"/>
<circle cx="980" cy="540" r="9.9"/>
<circle cx="1180" cy="660" r="9.9"/>
<circle cx="1100" cy="960" r="9.9"/>
<circle cx="1180" cy="1040" r="9.9"/>
<circle cx="800" cy="980" r="9.9"/>
<circle cx="800" cy="1080" r="9.9"/>
<circle cx="600" cy="320" r="9.9"/>
<circle cx="600" cy="440" r="9.9"/>
<circle cx="580" cy="500" r="9.9"/>
<circle cx="580" cy="920" r="9.9"/>
<circle cx="380" cy="620" r="9.9"/>
<circle cx="440" cy="680" r="9.9"/>
<circle cx="480" cy="720" r="9.9"/>
</g>
<g>
<text transform="translate(795,285) scale(1,1.035)">Version Manager</text>
<text transform="translate(855,345) scale(1,1.035)">Central ME</text>
<text transform="translate(795,405) scale(1,1.035)">Data Analyst</text>
<text transform="translate(735,465) scale(1,1.035)">Business Method Engineer</text>
<text transform="translate(1095,445) scale(1,1.035)">Design Office</text>
<text transform="translate(995,545) scale(1,1.035)">MAP, MAP Manager ...</text>
<text transform="translate(1195,665) scale(1,1.035)">QLS</text>
<text transform="translate(1115,965) scale(1,1.035)">Test Technician</text>
<text transform="translate(1195,1045) scale(1,1.035)">TOM</text>
<text transform="translate(815,985) scale(1,1.035)">Logistic Shop Floor</text>
<text transform="translate(815,1085) scale(1,1.035)">Sypply Chain Coordination, POC...</text>
<text transform="translate(585,325) scale(1,1.035)" text-anchor="end">Indus. Conf Engineer</text>
<text transform="translate(585,445) scale(1,1.035)" text-anchor="end">Indus. Engineer</text>
<text transform="translate(565,505) scale(1,1.035)" text-anchor="end">ME Process Engineer, AME ...</text>
<text transform="translate(565,925) scale(1,1.035)" text-anchor="end">Mfg. Eng. tool Development Engineer</text>
<text transform="translate(380,620) rotate(-45) translate(-15,5) scale(1,1.035)" text-anchor="end">Préventeur</text>
<text transform="translate(440,680) rotate(-45) translate(-15,5) scale(1,1.035)" text-anchor="end">SOC</text>
<text transform="translate(480,720) rotate(-45) translate(-15,5) scale(1,1.035)" text-anchor="end">SLS</text>
</g>
</g>
</svg>
</body></html>
